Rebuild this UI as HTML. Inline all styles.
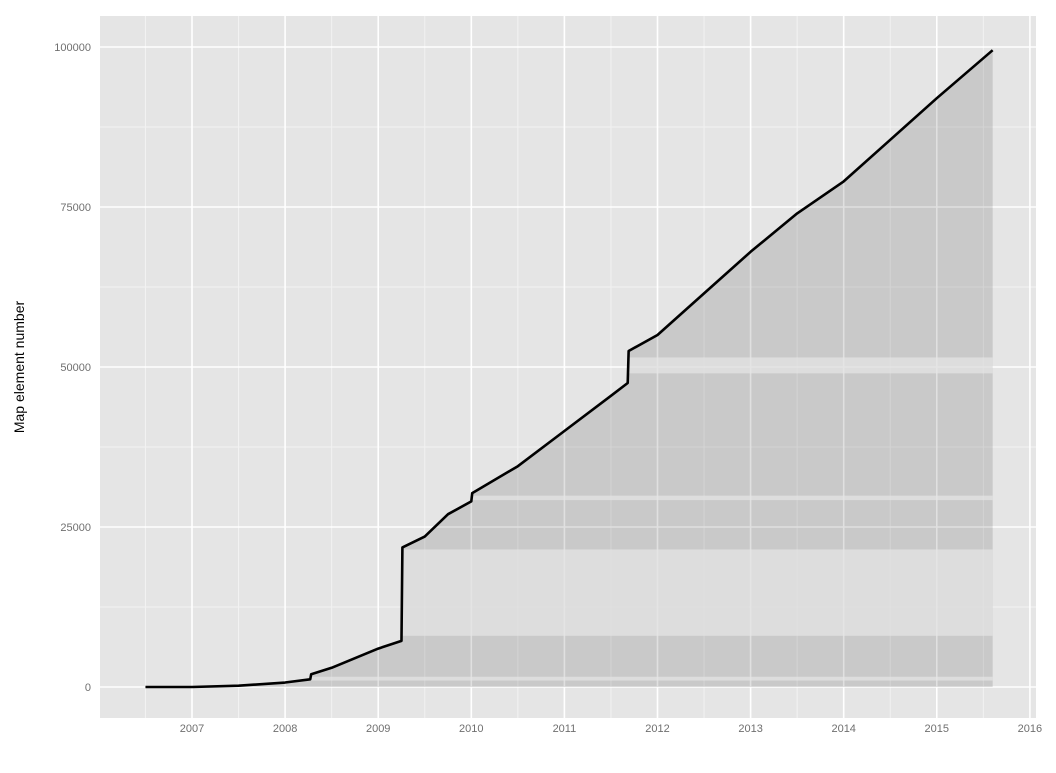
<!DOCTYPE html>
<html><head><meta charset="utf-8"><style>
body{margin:0;background:#fff;font-family:"Liberation Sans",sans-serif}
svg text{font-family:"Liberation Sans",sans-serif}
</style></head><body>
<svg id="chart" width="1056" height="768" xmlns="http://www.w3.org/2000/svg">
<rect x="100" y="16" width="936" height="702" fill="#e5e5e5"/>
<g id="grid"></g>
<g id="marks"></g>
<g id="axes"></g>
<text x="24" y="367" transform="rotate(-90 24 367)" text-anchor="middle" font-size="14" fill="#000">Map element number</text>
</svg>
<script>
const years=[2006.5,2007,2007.5,2008,2008.27,2008.28,2008.5,2008.75,2009,2009.25,2009.26,2009.5,2009.75,2010,2010.01,2010.5,2011,2011.5,2011.68,2011.69,2012,2012.5,2013,2013.5,2014,2014.5,2015,2015.6];
const values=[0,0,200,700,1200,2000,3000,4500,6000,7200,21800,23500,27000,29000,30300,34500,40000,45500,47500,52500,55000,61500,68000,74000,79000,85500,92000,99500];
const xTicks=[2007,2008,2009,2010,2011,2012,2013,2014,2015,2016];
const yTicks=[0,25000,50000,75000,100000];
const lightBands=[[8000,21500],[1000,1600],[29200,29900],[49000,51500]];
const NS="http://www.w3.org/2000/svg";
const X=v=>192+(v-2007)*93.1;
const Y=v=>687-v*160/25000;
function mk(tag,at,parent){const e=document.createElementNS(NS,tag);for(const k in at)e.setAttribute(k,at[k]);parent.appendChild(e);return e;}
const grid=document.getElementById('grid'),marks=document.getElementById('marks'),axes=document.getElementById('axes');
for(let y=2006.5;y<2016.3;y+=1){const l=mk('line',{x1:X(y),x2:X(y),y1:16,y2:718,stroke:'#f2f2f2','stroke-width':1},grid);

}
for(let v=-12500;v<=112500;v+=25000){const yy=Y(v);if(yy<16||yy>718)continue;const l=mk('line',{x1:100,x2:1036,y1:yy,y2:yy,stroke:'#f2f2f2','stroke-width':1},grid);

}
xTicks.forEach(t=>{const l=mk('line',{x1:X(t),x2:X(t),y1:16,y2:718,stroke:'#fff','stroke-width':1.6},grid);


const tx=mk('text',{x:X(t),y:732,'text-anchor':'middle','font-size':11,fill:'#6f6f6f'},axes);tx.textContent=t;

});
yTicks.forEach(t=>{const l=mk('line',{x1:100,x2:1036,y1:Y(t),y2:Y(t),stroke:'#fff','stroke-width':1.6},grid);


const tx=mk('text',{x:91,y:Y(t)+4,'text-anchor':'end','font-size':11,fill:'#6f6f6f'},axes);tx.textContent=t;

});
let pts=years.map((y,i)=>X(y)+','+Y(values[i]));
const last=years.length-1;
const area=pts.join(' ')+' '+X(years[last])+','+Y(0)+' '+X(years[0])+','+Y(0);
const defs=mk('defs',{},marks);
const cp=mk('clipPath',{id:'under'},defs);mk('polygon',{points:area},cp);
const a=mk('polygon',{points:area,fill:'rgba(0,0,0,0.12)'},marks);


const bg=mk('g',{'clip-path':'url(#under)'},marks);
lightBands.forEach(b=>{const r=mk('rect',{x:100,width:936,y:Y(b[1]),height:Y(b[0])-Y(b[1]),fill:'rgba(229,229,229,0.7)'},bg);

});
const ln=mk('polyline',{points:pts.join(' '),fill:'none',stroke:'#000','stroke-width':2.6,'stroke-linejoin':'round'},marks);


</script>
</body></html>
